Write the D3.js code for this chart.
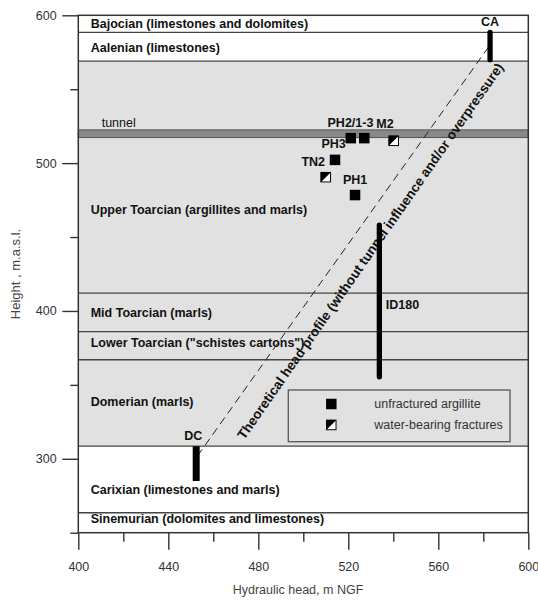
<!DOCTYPE html>
<html>
<meta charset="utf-8"/>
<head>
  <title>Hydraulic head profile</title>
  <style>
    body { margin: 0; background: #fff; }
    text { font-family: Arial, "Liberation Sans", sans-serif; }
    .layer-label { font-size: 12.5px; font-weight: bold; fill: #111; }
    .pt-label { font-size: 12.5px; font-weight: bold; fill: #111; }
    .axis text { font-size: 12.5px; fill: #333; font-family: Arial, "Liberation Sans", sans-serif; }
    .axis line { stroke: #333; stroke-width: 1.4px; }
  </style>
</head>
<body>
<svg width="538" height="601"></svg>
<script src="https://d3js.org/d3.v7.min.js"></script>
<script>
// layers, top to bottom (m a.s.l.)
var layerNames = [
  'Bajocian (limestones and dolomites)',
  'Aalenian (limestones)',
  'Upper Toarcian (argillites and marls)',
  'Mid Toarcian (marls)',
  'Lower Toarcian ("schistes cartons")',
  'Domerian (marls)',
  'Carixian (limestones and marls)',
  'Sinemurian (dolomites and limestones)'
];
var layerTops    = [600, 588.5, 569, 412, 386, 367, 308.5, 263.5];
var layerBottoms = [588.5, 569, 412, 386, 367, 308.5, 263.5, 250];
var layerGrey    = [false, false, true, true, true, true, false, false];
var layerLabelAt = [591.1, 575.5, 465.7, 395.8, 375.5, 335.7, 275.9, 256.3];

var tunnel = [517.3, 522.5];

// head measurements in boreholes (intervals)
var barNames = ['CA', 'ID180', 'DC'];
var barHead  = [583, 533.8, 452.4];
var barLow   = [570, 355.5, 285];
var barHigh  = [588.5, 458, 308.5];

// point measurements
var ptNames = ['PH3', 'PH2/1-3', 'TN2', 'PH1', 'M2', ''];
var ptHead  = [521.1, 527.1, 514.1, 523.0, 540.2, 510.0];
var ptZ     = [516.9, 516.9, 502.2, 478.4, 515.1, 490.5];
var ptType  = ['u', 'u', 'u', 'u', 'f', 'f'];

// theoretical profile
var profHead = [453, 583];
var profZ    = [302, 580];

var xTicks = d3.range(400, 601, 20);
var yTicks = d3.range(250, 601, 50);

var svg = d3.select("svg");
var x = d3.scaleLinear().domain([400, 600]).range([78.3, 528.3]);
var y = d3.scaleLinear().domain([250, 600]).range([532.7, 15.3]);
var x0 = x.range()[0], x1 = x.range()[1];

// layer fills
layerNames.forEach(function(n, i) {
  svg.append("rect")
    .attr("x", x0).attr("y", y(layerTops[i]))
    .attr("width", x1 - x0).attr("height", y(layerBottoms[i]) - y(layerTops[i]))
    .attr("fill", layerGrey[i] ? "#e1e1e1" : "#fff");
});

// tunnel band
svg.append("rect")
  .attr("x", x0).attr("y", y(tunnel[1]))
  .attr("width", x1 - x0).attr("height", y(tunnel[0]) - y(tunnel[1]))
  .attr("fill", "#888").attr("stroke", "#555").attr("stroke-width", 1);

// layer boundaries
layerTops.slice(1).forEach(function(v) {
  svg.append("line")
    .attr("x1", x0).attr("x2", x1).attr("y1", y(v)).attr("y2", y(v))
    .attr("stroke", "#444").attr("stroke-width", 1.3);
});

// layer labels
layerNames.forEach(function(n, i) {
  svg.append("text").attr("class", "layer-label")
    .attr("x", x0 + 12.4).attr("y", y(layerLabelAt[i]))
    .text(n);
});
svg.append("text")
  .attr("x", x0 + 23.4).attr("y", y(tunnel[1]) - 2.7)
  .style("font-size", "12.5px").attr("fill", "#111")
  .text("tunnel");

// theoretical head profile
svg.append("line")
  .attr("x1", x(profHead[0])).attr("y1", y(profZ[0]))
  .attr("x2", x(profHead[1])).attr("y2", y(profZ[1]))
  .attr("stroke", "#222").attr("stroke-width", 1)
  .attr("stroke-dasharray", "8,5");

var ang = Math.atan2(y(profZ[1]) - y(profZ[0]), x(profHead[1]) - x(profHead[0])) * 180 / Math.PI;
var tx = x(531.5), ty = y(438.7);
svg.append("text")
  .attr("transform", "translate(" + tx + "," + ty + ") rotate(" + (ang - 0.6) + ")")
  .attr("text-anchor", "middle")
  .style("font-size", "13.5px").style("font-weight", "bold").attr("fill", "#111")
  .text("Theoretical head profile (without tunnel influence and/or overpressure)");

// interval bars
barNames.forEach(function(n, i) {
  var dc = n === 'DC';
  svg.append("line")
    .attr("x1", x(barHead[i])).attr("x2", x(barHead[i]))
    .attr("y1", y(barLow[i])).attr("y2", y(barHigh[i]))
    .attr("stroke", "#000")
    .attr("stroke-width", dc ? 7 : 5.3)
    .attr("stroke-linecap", dc ? "butt" : "round");
});
svg.append("text").attr("class", "pt-label").attr("text-anchor", "middle")
  .attr("x", x(barHead[0])).attr("y", y(barHigh[0]) - 6).text(barNames[0]);
svg.append("text").attr("class", "pt-label").attr("text-anchor", "start")
  .attr("x", x(barHead[1]) + 6.5).attr("y", y(401.6)).text(barNames[1]);
svg.append("text").attr("class", "pt-label").attr("text-anchor", "middle")
  .attr("x", x(barHead[2]) - 3).attr("y", y(barHigh[2]) - 6).text(barNames[2]);

// symbols
var S = 10.5;
function symbol(g, cx, cy, type) {
  if (type === 'u') {
    g.append("rect").attr("x", cx - S / 2).attr("y", cy - S / 2)
      .attr("width", S).attr("height", S).attr("fill", "#000");
  } else {
    g.append("rect").attr("x", cx - S / 2).attr("y", cy - S / 2)
      .attr("width", S).attr("height", S).attr("fill", "#fff");
    g.append("path")
      .attr("d", "M" + (cx - S / 2) + "," + (cy - S / 2) + "h" + S + "L" + (cx - S / 2) + "," + (cy + S / 2) + "Z")
      .attr("fill", "#000");
    g.append("rect").attr("x", cx - S / 2 + 0.5).attr("y", cy - S / 2 + 0.5)
      .attr("width", S - 1).attr("height", S - 1)
      .attr("fill", "none").attr("stroke", "#000").attr("stroke-width", 1);
  }
}
ptNames.forEach(function(n, i) {
  symbol(svg, x(ptHead[i]), y(ptZ[i]), ptType[i]);
});

// point labels: offsets in px from their symbol
var lbl = {
  'PH3':     { dx: -5, dy: 9.7, anchor: "end" },
  'PH2/1-3': { dx: -13.8, dy: -11.3, anchor: "middle" },
  'TN2':     { dx: -10, dy: 6, anchor: "end" },
  'PH1':     { dx: 0, dy: -11.3, anchor: "middle" },
  'M2':      { dx: -8.7, dy: -13, anchor: "middle" }
};
ptNames.forEach(function(n, i) {
  if (!lbl[n]) return;
  svg.append("text").attr("class", "pt-label")
    .attr("text-anchor", lbl[n].anchor)
    .attr("x", x(ptHead[i]) + lbl[n].dx).attr("y", y(ptZ[i]) + lbl[n].dy)
    .text(n);
});

// legend
var lg = svg.append("g");
lg.append("rect").attr("x", 288.3).attr("y", 390).attr("width", 221.7).attr("height", 51.7)
  .attr("fill", "none").attr("stroke", "#555").attr("stroke-width", 1.3);
symbol(lg, 331.3, 404, 'u');
symbol(lg, 331.3, 425, 'f');
lg.append("text").attr("x", 374.3).attr("y", 408.3).style("font-size", "12.5px").attr("fill", "#333")
  .text("unfractured argillite");
lg.append("text").attr("x", 374.3).attr("y", 429.3).style("font-size", "12.5px").attr("fill", "#333")
  .text("water-bearing fractures");

// frame
svg.append("rect").attr("x", x0).attr("y", y(600))
  .attr("width", x1 - x0).attr("height", y(250) - y(600))
  .attr("fill", "none").attr("stroke", "#333").attr("stroke-width", 1.5);

// axes
var xAxis = svg.append("g").attr("class", "axis")
  .attr("transform", "translate(0," + y(250) + ")")
  .call(d3.axisBottom(x).tickValues(xTicks).tickSize(17).tickSizeOuter(0)
    .tickFormat(function(d) { return d % 40 === 0 ? d : ""; }));
xAxis.select(".domain").remove();
xAxis.selectAll(".tick line").attr("y2", function(d) { return d % 40 === 0 ? 17 : 9; });
xAxis.selectAll(".tick text").attr("y", 29).attr("dy", "0.71em");

var yAxis = svg.append("g").attr("class", "axis")
  .attr("transform", "translate(" + x0 + ",0)")
  .call(d3.axisLeft(y).tickValues(yTicks).tickSize(16).tickSizeOuter(0)
    .tickFormat(function(d) { return d % 100 === 0 ? d : ""; }));
yAxis.select(".domain").remove();
yAxis.selectAll(".tick line").attr("x2", function(d) { return d % 100 === 0 ? -16 : -8; });
yAxis.selectAll(".tick text").attr("x", -21.6).attr("dy", "0.32em");

// axis titles
svg.append("text").attr("x", 298).attr("y", 593.5).attr("text-anchor", "middle")
  .style("font-size", "12.5px").attr("fill", "#444")
  .text("Hydraulic head, m NGF");
svg.append("text").attr("transform", "translate(19.5,274) rotate(-90)").attr("text-anchor", "middle")
  .style("font-size", "13px").attr("fill", "#444")
  .text("Height , m.a.s.l.");
</script>
</body>
</html>
